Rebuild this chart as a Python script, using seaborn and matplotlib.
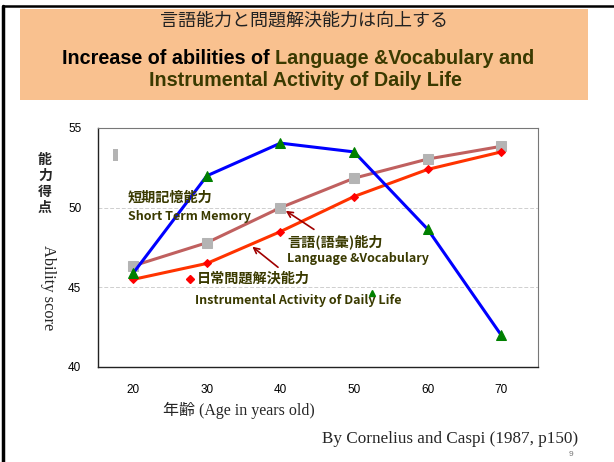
import matplotlib
matplotlib.use("Agg")
import matplotlib.pyplot as plt
import seaborn as sns
from matplotlib.patches import Rectangle
from matplotlib.lines import Line2D

sns.set_style("white")
plt.rcParams['font.family'] = ['Liberation Sans', 'Noto Sans CJK JP', 'DejaVu Sans']

# データ (Cornelius and Caspi, 1987)
ages = [20, 30, 40, 50, 60, 70]
short_term_memory = [45.9, 52.0, 54.05, 53.5, 48.65, 42.0]
language_vocab = [46.35, 47.8, 50.0, 51.85, 53.05, 53.85]
daily_life = [45.5, 46.5, 48.5, 50.7, 52.4, 53.5]
y_ticks = [40, 45, 50, 55]

W, H = 614, 462
fig = plt.figure(figsize=(W / 100, H / 100), dpi=100)

def px(x, y):
    return x / W, 1 - y / H

# スライドの枠
fig.add_artist(Line2D([3 / W, 3 / W], [0, 1 - 6 / H], color='black', lw=2.5))
fig.add_artist(Line2D([3 / W, 1], [1 - 6 / H, 1 - 6 / H], color='black', lw=1.8))

# タイトルボックス
fig.add_artist(Rectangle(px(20, 100), 568 / W, 91 / H, facecolor='#F9C18F',
                         edgecolor='none', transform=fig.transFigure))
cjk = ['Noto Sans CJK JP', 'DejaVu Sans']
serif = ['Liberation Serif', 'Noto Sans CJK JP', 'DejaVu Serif']
olive = '#3A3A00'
fig.text(*px(304, 21), "言語能力と問題解決能力は向上する", family=cjk, fontsize=13,
         ha='center', va='center', color='#222222')
t1 = fig.text(*px(62, 58), "Increase of abilities of ", fontsize=14.2,
              weight='bold', ha='left', va='center', color='black')
renderer = fig.canvas.get_renderer()
bb = t1.get_window_extent(renderer)
fig.text(bb.x1 / W, 1 - 58 / H, "Language &Vocabulary and", fontsize=14.2,
         weight='bold', ha='left', va='center', color=olive)
fig.text(*px(305, 80), "Instrumental Activity of Daily Life", fontsize=14.2,
         weight='bold', ha='center', va='center', color=olive)

# グラフ本体
ax = fig.add_axes([98 / W, 1 - 367 / H, 440 / W, 239 / H])
sns.lineplot(x=ages, y=language_vocab, ax=ax, color='#C0605F', lw=2.2,
             marker='s', markersize=6.5, markerfacecolor='#B4B4B4',
             markeredgecolor='#B4B4B4')
sns.lineplot(x=ages, y=daily_life, ax=ax, color='#FF3300', lw=2.2,
             marker='D', markersize=4.5, markerfacecolor='#FF0000',
             markeredgecolor='#FF0000')
sns.lineplot(x=ages, y=short_term_memory, ax=ax, color='#0000FF', lw=2.2,
             marker='^', markersize=7, markerfacecolor='#008000',
             markeredgecolor='#008000')

ax.set_xlim(15.2, 75)
ax.set_ylim(40, 55)
ax.set_xticks(ages)
ax.set_yticks(y_ticks)
ax.tick_params(axis='both', length=0, labelsize=8.5, colors='black')
ax.tick_params(axis='x', pad=12)
ax.tick_params(axis='y', pad=12)
for y in [45, 50]:
    ax.axhline(y, color='#CFCFCF', lw=0.7, ls=(0, (4, 2)), zorder=0)
for s in ['left', 'bottom']:
    ax.spines[s].set_color('#222222')
    ax.spines[s].set_linewidth(1.0)
for s in ['top', 'right']:
    ax.spines[s].set_color('#777777')
    ax.spines[s].set_linewidth(0.8)
ax.set_xlabel("")
ax.set_ylabel("")

# 凡例の残り
ax.add_patch(Rectangle((17.24, 52.93), 0.68, 0.75, facecolor='#B4B4B4', edgecolor='none'))
ax.plot([52.48], [44.65], marker='^', color='#008000', markersize=5)
ax.plot([27.72], [45.52], marker='D', color='#FF0000', markersize=4)

# 注釈
ax.text(19.28, 50.61, "短期記憶能力", family=cjk, fontsize=10.2,
        weight='bold', color=olive, ha='left', va='center')
ax.text(19.28, 49.42, "Short Term Memory", family=cjk, fontsize=9,
        weight='bold', color=olive, ha='left', va='center')
ax.text(40.91, 47.85, "言語(語彙)能力", family=cjk, fontsize=10.2, weight='bold',
        color=olive, ha='left', va='center')
ax.text(40.91, 46.78, "Language &Vocabulary", family=cjk, fontsize=9, weight='bold',
        color=olive, ha='left', va='center')
ax.text(28.67, 45.52, "日常問題解決能力", family=cjk, fontsize=10.2,
        weight='bold', color=olive, ha='left', va='center')
ax.text(28.4, 44.2, "Instrumental Activity of Daily Life", family=cjk, fontsize=9,
        weight='bold', color=olive, ha='left', va='center')
ax.annotate("", xy=(40.4, 49.9), xytext=(44.86, 48.54),
            arrowprops=dict(arrowstyle='->', color='#A00000', lw=1.2))
ax.annotate("", xy=(35.88, 47.66), xytext=(39.96, 46.15),
            arrowprops=dict(arrowstyle='->', color='#A00000', lw=1.2))

# 軸ラベル
fig.text(*px(45, 184), "能\n力\n得\n点", family=cjk, fontsize=10, weight='bold',
         ha='center', va='center', linespacing=1.2)
fig.text(*px(48, 288), "Ability score", family=serif,
         fontsize=11.8, rotation=270, ha='center', va='center')
fig.text(*px(163, 410), "年齢 (Age in years old)", family=serif,
         fontsize=11.5, ha='left', va='center')
fig.text(*px(578, 439), "By Cornelius and Caspi (1987, p150)",
         family=serif, fontsize=12.3, ha='right', va='center')
fig.text(*px(571, 455), "9", fontsize=6, color='#777777', ha='center', va='center')

fig.savefig("out.png", dpi=100)
